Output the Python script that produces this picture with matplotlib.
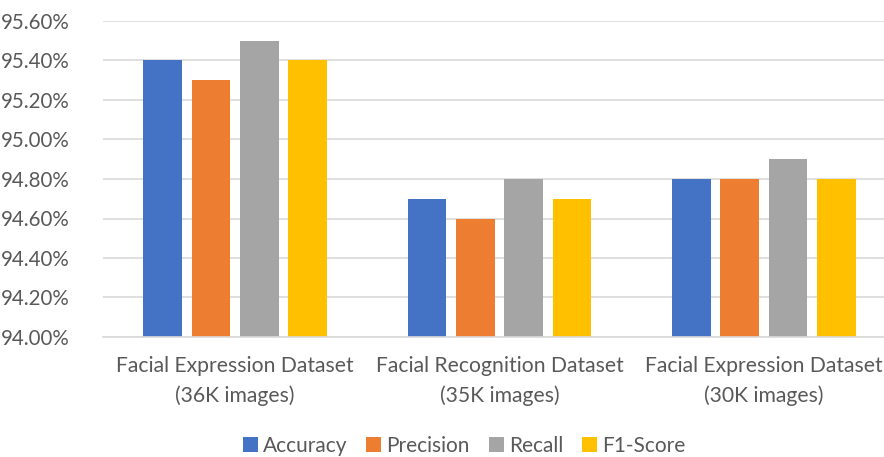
import numpy as np
import matplotlib.pyplot as plt
from matplotlib.ticker import FuncFormatter

plt.rcParams['font.family'] = ['Lato', 'DejaVu Sans']

# data
categories = ['Facial Expression Dataset\n(36K images)',
              'Facial Recognition Dataset\n(35K images)',
              'Facial Expression Dataset\n(30K images)']
series = ['Accuracy', 'Precision', 'Recall', 'F1-Score']
accuracy = [95.4, 94.7, 94.8]
precision = [95.3, 94.6, 94.8]
recall = [95.5, 94.8, 94.9]
f1_score = [95.4, 94.7, 94.8]
yticks = [94.0, 94.2, 94.4, 94.6, 94.8, 95.0, 95.2, 95.4, 95.6]

colors = ['#4472C4', '#ED7D31', '#A5A5A5', '#FFC000']
text_color = '#595959'
grid_color = '#D9D9D9'

W, H = 884, 457
fig = plt.figure(figsize=(W / 100, H / 100), dpi=100)
# plot area; right side runs past the image edge like the original crop
ax = fig.add_axes([103 / W, (H - 337) / H, 793 / W, 316 / H])

x = np.arange(len(categories))
width = 0.146
step = 0.183
values = [accuracy, precision, recall, f1_score]
for i, (name, vals) in enumerate(zip(series, values)):
    ax.bar(x + (i - 1.5) * step, np.array(vals) - 94.0, width, bottom=94.0,
           color=colors[i], label=name, zorder=3)

ax.set_xlim(-0.5, 2.5)
ax.set_ylim(94.0, 95.6)
ax.set_yticks(yticks)
ax.yaxis.set_major_formatter(FuncFormatter(lambda v, p: '%.2f%%' % v))
ax.grid(axis='y', color=grid_color, linewidth=1.2, zorder=0)
ax.set_xticks(x)
ax.set_xticklabels(categories, linespacing=1.55, fontsize=15.2)

for s in ['top', 'right', 'left']:
    ax.spines[s].set_visible(False)
ax.spines['bottom'].set_color(grid_color)
ax.spines['bottom'].set_linewidth(1.2)
ax.spines['bottom'].set_zorder(4)

ax.tick_params(axis='both', length=0, colors=text_color)
ax.tick_params(axis='y', pad=24, labelsize=14.8)
ax.tick_params(axis='x', pad=14)

fig.legend(loc='center', bbox_to_anchor=(464 / W, 11 / H), ncol=4,
           frameon=False, fontsize=15, labelcolor=text_color,
           handlelength=0.72, handleheight=0.72, handletextpad=0.25,
           columnspacing=0.9)

fig.savefig('out.png', dpi=100)
